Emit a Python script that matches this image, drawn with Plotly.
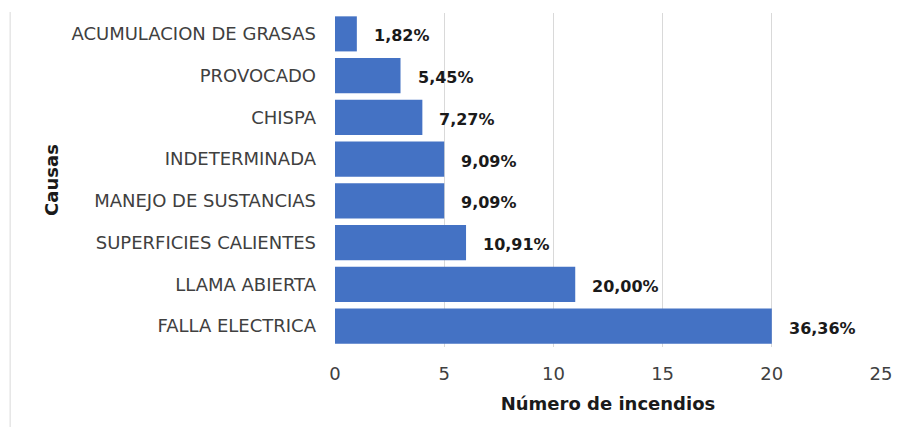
import plotly.graph_objects as go

categories = ["FALLA ELECTRICA", "LLAMA ABIERTA", "SUPERFICIES CALIENTES",
              "MANEJO DE SUSTANCIAS", "INDETERMINADA", "CHISPA",
              "PROVOCADO", "ACUMULACION DE GRASAS"]
counts = [20, 11, 6, 5, 5, 4, 3, 1]
pct_labels = ["36,36%", "20,00%", "10,91%", "9,09%", "9,09%", "7,27%", "5,45%", "1,82%"]
x_ticks = [0, 5, 10, 15, 20, 25]

fig = go.Figure()
fig.add_trace(go.Bar(
    x=counts, y=categories, orientation="h",
    marker=dict(color="#4472C4", line=dict(width=0)),
    hoverinfo="x+y",
))

for c, v, t in zip(categories, counts, pct_labels):
    fig.add_annotation(x=v, y=c, text="<b>" + t + "</b>", showarrow=False,
                       xanchor="left", yanchor="middle", xshift=15, yshift=-2,
                       font=dict(family="DejaVu Sans", size=16, color="#1a1a1a"))

fig.add_shape(type="line", xref="paper", yref="paper",
              x0=-0.595, x1=-0.595, y0=-0.24, y1=1.003,
              line=dict(color="#d9d9d9", width=1))

fig.update_layout(
    width=897, height=427,
    margin=dict(l=335, r=16, t=13, b=80),
    paper_bgcolor="white", plot_bgcolor="white",
    bargap=0.16,
    showlegend=False,
    font=dict(family="DejaVu Sans", size=18, color="#404040"),
    xaxis=dict(range=[0, 25], tickvals=x_ticks, showgrid=True,
               gridcolor="#d9d9d9", gridwidth=1, zeroline=False,
               showline=False, ticks="", automargin=False,
               ticklabelstandoff=14,
               tickfont=dict(size=18, color="#404040"),
               title=dict(text="<b>Número de incendios</b>",
                          font=dict(size=18, color="#1a1a1a"), standoff=14)),
    yaxis=dict(showgrid=False, zeroline=False, showline=False, ticks="",
               ticklabelstandoff=18, automargin=False,
               tickfont=dict(size=18, color="#404040"),
               title=dict(text="<b>Causas</b>",
                          font=dict(size=18, color="#1a1a1a"), standoff=8)),
)

fig.write_html("out.html", config={"displayModeBar": False},
               post_script="document.body.style.margin='0';document.body.style.padding='0';")
